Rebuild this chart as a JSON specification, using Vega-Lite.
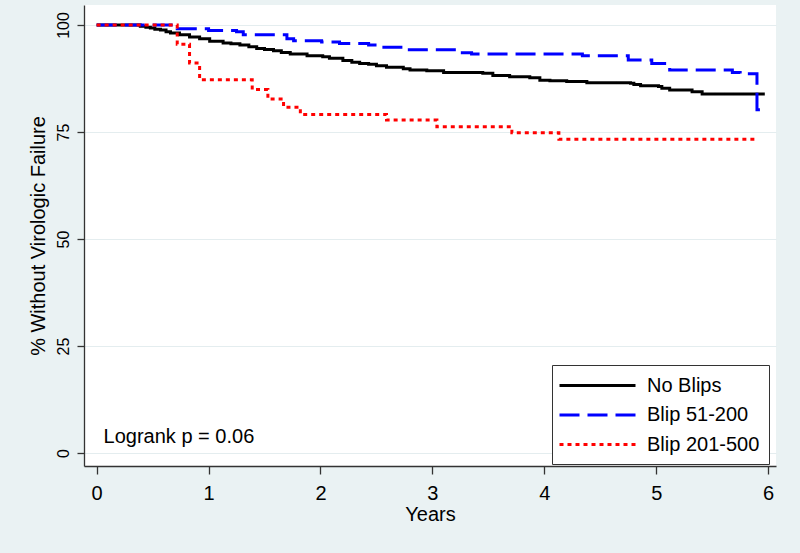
{
  "$schema": "https://vega.github.io/schema/vega-lite/v6.json",
  "width": 692,
  "height": 461,
  "autosize": {"type": "none"},
  "padding": {"left": 84, "top": 5, "right": 24, "bottom": 87},
  "background": "#eaf2f3",
  "config": {
    "font": "Liberation Sans",
    "view": {"fill": "white", "stroke": null},
    "axis": {
      "domainColor": "#333333",
      "domainWidth": 1.3,
      "tickColor": "#333333",
      "tickWidth": 1.3,
      "labelColor": "black",
      "titleColor": "black",
      "titleFontWeight": "normal",
      "titleFontSize": 20,
      "labelFlush": false,
      "labelOverlap": false
    },
    "legend": {
      "orient": "none",
      "legendX": 468,
      "legendY": 360,
      "strokeColor": "#333333",
      "fillColor": "white",
      "padding": 9,
      "symbolType": "M-3.8,0H3.8",
      "symbolSize": 400,
      "symbolOffset": 25,
      "symbolStrokeWidth": 3,
      "labelFontSize": 20,
      "labelColor": "black",
      "labelOffset": 38,
      "labelExpr": "datum.label + '  '",
      "rowPadding": 7.5
    }
  },
  "datasets": {
    "km": [
      {"group": "No Blips", "t": 0, "s": 100},
      {"group": "No Blips", "t": 0.35, "s": 100},
      {"group": "No Blips", "t": 0.39, "s": 99.7},
      {"group": "No Blips", "t": 0.44, "s": 99.5},
      {"group": "No Blips", "t": 0.48, "s": 99.3},
      {"group": "No Blips", "t": 0.52, "s": 99.0},
      {"group": "No Blips", "t": 0.57, "s": 98.8},
      {"group": "No Blips", "t": 0.62, "s": 98.4},
      {"group": "No Blips", "t": 0.66, "s": 98.1},
      {"group": "No Blips", "t": 0.74, "s": 97.7},
      {"group": "No Blips", "t": 0.83, "s": 97.2},
      {"group": "No Blips", "t": 0.92, "s": 96.8},
      {"group": "No Blips", "t": 1.01, "s": 96.2},
      {"group": "No Blips", "t": 1.13, "s": 95.8},
      {"group": "No Blips", "t": 1.2, "s": 95.6},
      {"group": "No Blips", "t": 1.28, "s": 95.3},
      {"group": "No Blips", "t": 1.36, "s": 94.9},
      {"group": "No Blips", "t": 1.43, "s": 94.5},
      {"group": "No Blips", "t": 1.5, "s": 94.3},
      {"group": "No Blips", "t": 1.58, "s": 94.0},
      {"group": "No Blips", "t": 1.65, "s": 93.6},
      {"group": "No Blips", "t": 1.73, "s": 93.2},
      {"group": "No Blips", "t": 1.88, "s": 92.8},
      {"group": "No Blips", "t": 2.02, "s": 92.6},
      {"group": "No Blips", "t": 2.08, "s": 92.2},
      {"group": "No Blips", "t": 2.2, "s": 91.7},
      {"group": "No Blips", "t": 2.28, "s": 91.3},
      {"group": "No Blips", "t": 2.35, "s": 91.0},
      {"group": "No Blips", "t": 2.43, "s": 90.8},
      {"group": "No Blips", "t": 2.5, "s": 90.5},
      {"group": "No Blips", "t": 2.59, "s": 90.1},
      {"group": "No Blips", "t": 2.74, "s": 89.8},
      {"group": "No Blips", "t": 2.8, "s": 89.5},
      {"group": "No Blips", "t": 2.95, "s": 89.3},
      {"group": "No Blips", "t": 3.1, "s": 88.9},
      {"group": "No Blips", "t": 3.45, "s": 88.7},
      {"group": "No Blips", "t": 3.54, "s": 88.2},
      {"group": "No Blips", "t": 3.69, "s": 87.9},
      {"group": "No Blips", "t": 3.87, "s": 87.7},
      {"group": "No Blips", "t": 3.96, "s": 87.1},
      {"group": "No Blips", "t": 4.05, "s": 87.0},
      {"group": "No Blips", "t": 4.2, "s": 86.8},
      {"group": "No Blips", "t": 4.38, "s": 86.5},
      {"group": "No Blips", "t": 4.77, "s": 86.4},
      {"group": "No Blips", "t": 4.8, "s": 86.1},
      {"group": "No Blips", "t": 4.86, "s": 85.8},
      {"group": "No Blips", "t": 5.02, "s": 85.6},
      {"group": "No Blips", "t": 5.05, "s": 85.2},
      {"group": "No Blips", "t": 5.12, "s": 84.8},
      {"group": "No Blips", "t": 5.32, "s": 84.4},
      {"group": "No Blips", "t": 5.41, "s": 83.9},
      {"group": "No Blips", "t": 5.97, "s": 83.9},
      {"group": "Blip 51-200", "t": 0, "s": 100},
      {"group": "Blip 51-200", "t": 0.72, "s": 99.1},
      {"group": "Blip 51-200", "t": 1.0, "s": 98.7},
      {"group": "Blip 51-200", "t": 1.25, "s": 98.4},
      {"group": "Blip 51-200", "t": 1.31, "s": 97.7},
      {"group": "Blip 51-200", "t": 1.7, "s": 96.8},
      {"group": "Blip 51-200", "t": 1.76, "s": 96.3},
      {"group": "Blip 51-200", "t": 2.01, "s": 96.0},
      {"group": "Blip 51-200", "t": 2.17, "s": 95.7},
      {"group": "Blip 51-200", "t": 2.43, "s": 95.3},
      {"group": "Blip 51-200", "t": 2.51, "s": 94.8},
      {"group": "Blip 51-200", "t": 2.76, "s": 94.2},
      {"group": "Blip 51-200", "t": 3.22, "s": 93.5},
      {"group": "Blip 51-200", "t": 3.35, "s": 93.2},
      {"group": "Blip 51-200", "t": 4.34, "s": 92.8},
      {"group": "Blip 51-200", "t": 4.75, "s": 91.8},
      {"group": "Blip 51-200", "t": 4.96, "s": 91.0},
      {"group": "Blip 51-200", "t": 5.12, "s": 89.5},
      {"group": "Blip 51-200", "t": 5.68, "s": 88.9},
      {"group": "Blip 51-200", "t": 5.75, "s": 88.6},
      {"group": "Blip 51-200", "t": 5.9, "s": 80.2},
      {"group": "Blip 51-200", "t": 5.95, "s": 79.9},
      {"group": "Blip 201-500", "t": 0, "s": 100},
      {"group": "Blip 201-500", "t": 0.72, "s": 95.5},
      {"group": "Blip 201-500", "t": 0.83, "s": 91.1},
      {"group": "Blip 201-500", "t": 0.92, "s": 87.2},
      {"group": "Blip 201-500", "t": 1.39, "s": 84.9},
      {"group": "Blip 201-500", "t": 1.53, "s": 82.7},
      {"group": "Blip 201-500", "t": 1.67, "s": 80.8},
      {"group": "Blip 201-500", "t": 1.82, "s": 79.1},
      {"group": "Blip 201-500", "t": 2.59, "s": 77.8},
      {"group": "Blip 201-500", "t": 3.04, "s": 76.2},
      {"group": "Blip 201-500", "t": 3.71, "s": 74.8},
      {"group": "Blip 201-500", "t": 4.13, "s": 73.3},
      {"group": "Blip 201-500", "t": 5.9, "s": 73.3}
    ],
    "note": [
      {"t": 0.062, "s": 2.4, "label": "Logrank p = 0.06"}
    ]
  },
  "layer": [
    {
      "data": {"name": "km"},
      "mark": {"type": "line", "interpolate": "step-after", "strokeWidth": 3, "strokeCap": "butt"},
      "encoding": {
        "x": {
          "field": "t",
          "type": "quantitative",
          "scale": {"domain": [-0.113, 6.07], "nice": false, "zero": false},
          "axis": {
            "title": "Years",
            "values": [0, 1, 2, 3, 4, 5, 6],
            "format": "d",
            "grid": false,
            "tickSize": 8,
            "labelFontSize": 20,
            "labelBaseline": "alphabetic",
            "labelPadding": 25,
            "titleX": 346,
            "titleY": 54,
            "titleBaseline": "alphabetic"
          }
        },
        "y": {
          "field": "s",
          "type": "quantitative",
          "scale": {"domain": [-3.04, 104.67], "nice": false, "zero": false},
          "axis": {
            "title": "% Without Virologic Failure",
            "values": [0, 25, 50, 75, 100],
            "grid": true,
            "gridColor": "#e4edef",
            "gridWidth": 1,
            "tickSize": 7,
            "labelFontSize": 16,
            "labelAngle": -90,
            "labelAlign": "center",
            "labelBaseline": "alphabetic",
            "labelPadding": 9,
            "titleX": -46,
            "titleY": 230.5,
            "titleAngle": -90,
            "titleAlign": "center",
            "titleBaseline": "middle"
          }
        },
        "color": {
          "field": "group",
          "type": "nominal",
          "scale": {"domain": ["No Blips", "Blip 51-200", "Blip 201-500"], "range": ["#000000", "#0000ff", "#ff0000"]},
          "legend": {"title": null}
        },
        "strokeDash": {
          "field": "group",
          "type": "nominal",
          "scale": {"domain": ["No Blips", "Blip 51-200", "Blip 201-500"], "range": [[1, 0], [20, 8], [4, 4]]},
          "legend": {"title": null}
        }
      }
    },
    {
      "data": {"name": "note"},
      "mark": {"type": "text", "align": "left", "baseline": "alphabetic", "fontSize": 20, "color": "black"},
      "encoding": {
        "x": {"field": "t", "type": "quantitative"},
        "y": {"field": "s", "type": "quantitative"},
        "text": {"field": "label"}
      }
    }
  ]
}
